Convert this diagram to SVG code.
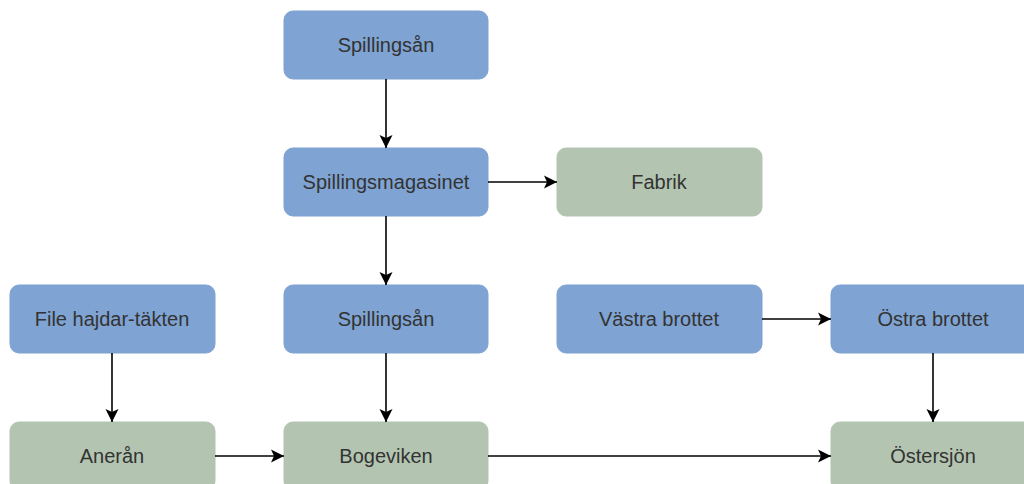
<svg xmlns="http://www.w3.org/2000/svg" width="1024" height="484" viewBox="0 0 1024 484">
<style>
.b{fill:#7FA3D2;stroke:#7FA3D2;stroke-width:1}
.g{fill:#B3C5B1;stroke:#B3C5B1;stroke-width:1}
text{font-family:"Liberation Sans",Arial,sans-serif;font-size:20px;fill:#333;text-anchor:middle}
.c{stroke:#000;stroke-width:1.6;fill:none;marker-end:url(#ah)}
</style>
<defs>
<marker id="ah" markerUnits="userSpaceOnUse" markerWidth="16" markerHeight="16" refX="13" refY="7" orient="auto">
<path d="M0,0.5 L13,7 L0,13.5 L3,7 z" fill="#000"/>
</marker>
</defs>
<rect width="1024" height="484" fill="#fff"/>
<g id="n1"><rect class="b" x="284" y="11" width="204" height="68" rx="9"/><text x="386" y="52">Spillingsån</text></g>
<g id="n2"><rect class="b" x="284" y="148" width="204" height="68" rx="9"/><text x="386" y="189">Spillingsmagasinet</text></g>
<g id="n3"><rect class="g" x="557" y="148" width="205" height="68" rx="9"/><text x="659" y="189">Fabrik</text></g>
<g id="n4"><rect class="b" x="10" y="285" width="205" height="68" rx="9"/><text x="112" y="326">File hajdar-täkten</text></g>
<g id="n5"><rect class="b" x="284" y="285" width="204" height="68" rx="9"/><text x="386" y="326">Spillingsån</text></g>
<g id="n6"><rect class="b" x="557" y="285" width="205" height="68" rx="9"/><text x="659" y="326">Västra brottet</text></g>
<g id="n7"><rect class="b" x="831" y="285" width="205" height="68" rx="9"/><text x="933" y="326">Östra brottet</text></g>
<g id="n8"><rect class="g" x="10" y="422" width="205" height="68" rx="9"/><text x="112" y="463">Anerån</text></g>
<g id="n9"><rect class="g" x="284" y="422" width="204" height="68" rx="9"/><text x="386" y="463">Bogeviken</text></g>
<g id="n10"><rect class="g" x="831" y="422" width="205" height="68" rx="9"/><text x="933" y="463">Östersjön</text></g>
<g id="connectors">
<path class="c" d="M386,79 L386,148"/>
<path class="c" d="M488,182 L557,182"/>
<path class="c" d="M386,216 L386,285"/>
<path class="c" d="M112,353 L112,422"/>
<path class="c" d="M386,353 L386,422"/>
<path class="c" d="M762,319 L831,319"/>
<path class="c" d="M933,353 L933,422"/>
<path class="c" d="M215,456 L284,456"/>
<path class="c" d="M488,456 L831,456"/>
</g>
</svg>
